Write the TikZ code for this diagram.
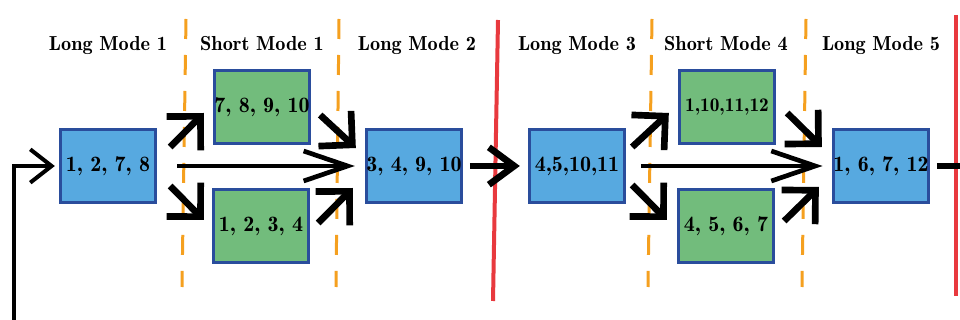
\documentclass[tikz,border=0pt]{standalone}
\usetikzlibrary{arrows.meta,calc}

\definecolor{boxblue}{RGB}{87,169,224}
\definecolor{boxedge}{RGB}{42,77,156}
\definecolor{boxgreen}{RGB}{114,188,124}
\definecolor{splitorange}{RGB}{245,160,31}
\definecolor{cutred}{RGB}{232,57,62}

\tikzset{
  modebox/.style={draw=boxedge, line width=2.25pt, minimum width=71.5pt,
    minimum height=55pt, inner sep=0pt,
    font=\fontsize{16.5}{18}\fontseries{b}\selectfont},
  longbox/.style={modebox, fill=boxblue},
  shortbox/.style={modebox, fill=boxgreen},
  modetitle/.style={font=\fontsize{15.2}{17}\fontseries{b}\selectfont, anchor=base},
  divider/.style={splitorange, line width=2.25pt, dash pattern=on 15pt off 12pt},
  cutline/.style={cutred, line width=3pt},
  branch/.style={line width=5pt, -{Straight Barb[length=18pt,width=36pt]}},
  bypass/.style={line width=3.5pt, -{Straight Barb[length=33pt,width=22.5pt]}},
  handover/.style={line width=5pt, -{Straight Barb[length=19pt,width=28pt]}},
  feedback/.style={line width=3pt, -{Straight Barb[length=16pt,width=25pt]}},
}

\begin{document}
\begin{tikzpicture}[x=0.75pt,y=-0.75pt]
  \useasboundingbox (0,0) rectangle (960,320);

  % mode separators
  \draw[divider] (186,19) -- (182,287);
  \draw[divider] (339,19) -- (336,287);
  \draw[divider] (652,19) -- (648,287);
  \draw[divider] (806,19) -- (802,287);
  \draw[cutline] (498,20) -- (493,301);
  \draw[cutline] (956,15) -- (956,296);

  % column titles
  \node[modetitle] (t1) at (108,51) {Long Mode 1};
  \node[modetitle] (t2) at (262,51) {Short Mode 1};
  \node[modetitle] (t3) at (417,51) {Long Mode 2};
  \node[modetitle] (t4) at (577,51) {Long Mode 3};
  \node[modetitle] (t5) at (726,51) {Short Mode 4};
  \node[modetitle] (t6) at (881,51) {Long Mode 5};

  % mode boxes
  \node[longbox]  (A) at (108,166) {1, 2, 7, 8};
  \node[shortbox] (B) at (262,107) {7, 8, 9, 10};
  \node[shortbox] (C) at (261,226) {1, 2, 3, 4};
  \node[longbox]  (D) at (414,166) {3, 4, 9, 10};
  \node[longbox]  (E) at (577,166) {4,5,10,11};
  \node[shortbox] (F) at (727,107) {\fontsize{14.5}{16}\selectfont 1,10,11,12};
  \node[shortbox] (G) at (726,226) {4, 5, 6, 7};
  \node[longbox]  (H) at (881,166) {1, 6, 7, 12};

  % branch end points
  \coordinate (ab0) at ($(A.east)+(13,-19)$);
  \coordinate (ab1) at ($(B.west)+(-9,6)$);
  \coordinate (ac0) at ($(A.east)+(13,20)$);
  \coordinate (ac1) at ($(C.west)+(-8,-6)$);
  \coordinate (bd0) at ($(B.east)+(9,8)$);
  \coordinate (bd1) at ($(D.west)+(-9,-18)$);
  \coordinate (cd0) at ($(C.east)+(8,-3)$);
  \coordinate (cd1) at ($(D.west)+(-12,22)$);

  \coordinate (ef0) at ($(E.east)+(6,-19)$);
  \coordinate (ef1) at ($(F.west)+(-9,6)$);
  \coordinate (eg0) at ($(E.east)+(6,19)$);
  \coordinate (eg1) at ($(G.west)+(-10,-6)$);
  \coordinate (fh0) at ($(F.east)+(11,6)$);
  \coordinate (fh1) at ($(H.west)+(-10,-19)$);
  \coordinate (gh0) at ($(G.east)+(9,-5)$);
  \coordinate (gh1) at ($(H.west)+(-13,21)$);

  \coordinate (loopstart) at (14,322);
  \coordinate (exitend) at (962,166);

  % connectors
  \draw[feedback, shorten >=3pt] (loopstart) |- (A.west);

  \draw[branch] (ab0) -- (ab1);
  \draw[branch] (ac0) -- (ac1);
  \draw[branch] (bd0) -- (bd1);
  \draw[branch] (cd0) -- (cd1);
  \draw[bypass, shorten <=15pt, shorten >=7.5pt] (A.east) -- (D.west);

  \draw[handover, shorten <=5pt, shorten >=6pt] (D.east) -- (E.west);

  \draw[branch] (ef0) -- (ef1);
  \draw[branch] (eg0) -- (eg1);
  \draw[branch] (fh0) -- (fh1);
  \draw[branch] (gh0) -- (gh1);
  \draw[bypass, shorten <=11pt, shorten >=7pt] (E.east) -- (H.west);

  \draw[line width=5pt, shorten <=5pt] (H.east) -- (exitend);
\end{tikzpicture}
\end{document}
